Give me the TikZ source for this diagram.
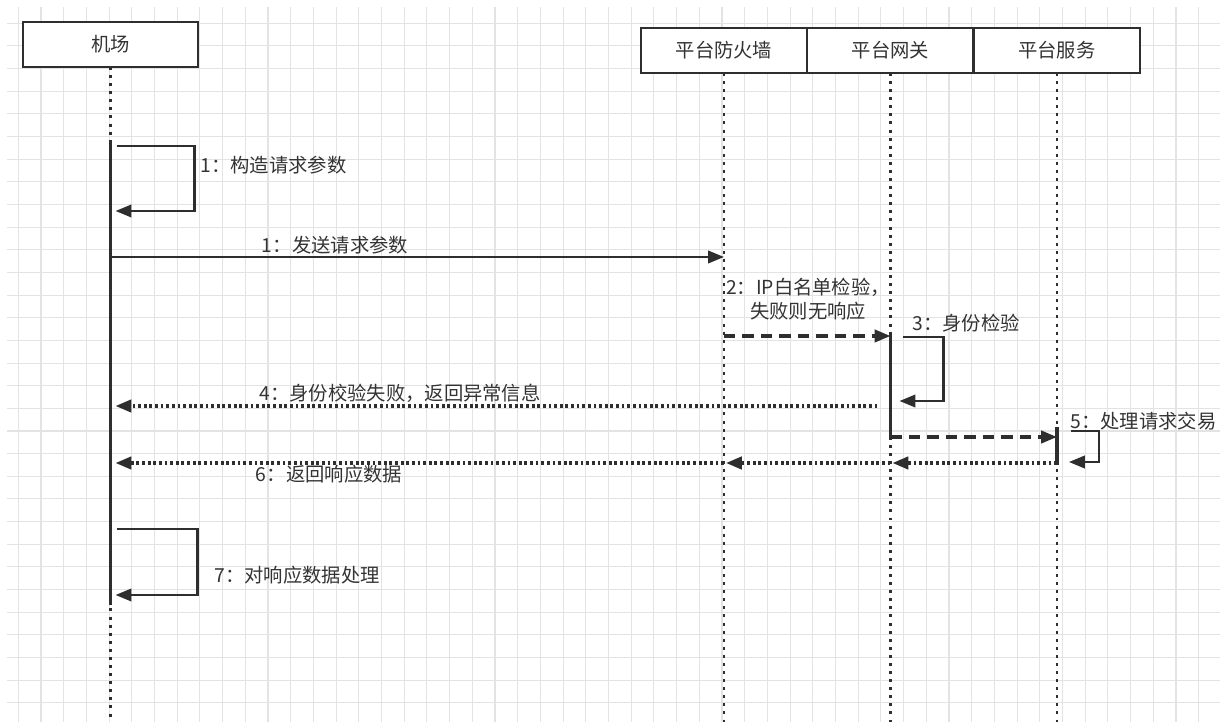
\documentclass[tikz,border=0pt]{standalone}
\usepackage{fontspec}
\setmainfont{Noto Sans CJK SC}
\usetikzlibrary{arrows.meta,calc,positioning}
\definecolor{ink}{HTML}{2E2E2E}
\definecolor{txt}{HTML}{333333}
\definecolor{gridc}{HTML}{E3E3E3}

\begin{document}
\begin{tikzpicture}[x=0.02cm,y=-0.02cm,
	font=\fontsize{11pt}{13.6pt}\selectfont,text=txt,
	actor/.style={draw=ink,line width=1.4pt,fill=white,minimum height=0.9cm,outer sep=0pt,inner sep=0pt},
	life/.style={draw=ink,line width=1.6pt,dash pattern=on 1.7pt off 2.9pt},
	bar/.style={draw=ink,line width=2pt},
	msg/.style={draw=ink,line width=1.4pt,-{Triangle[length=9pt,width=7pt]}},
	dmsg/.style={msg,line width=1.8pt,dash pattern=on 6.5pt off 4pt},
	rmsg/.style={msg,line width=1.9pt,dash pattern=on 1.6pt off 1.6pt},
	lbl/.style={inner sep=0pt}]
	\useasboundingbox (0,0) rectangle (1220,722);
	\foreach \i in {0,...,52}
		\draw[gridc,line width=0.6pt] ({18.3+22.7*\i},7) -- ({18.3+22.7*\i},722);
	\foreach \j in {0,...,30}
		\draw[gridc,line width=0.6pt] (7,{23.3+22.65*\j}) -- (1220,{23.3+22.65*\j});

	\node[actor,minimum width=3.5cm] (a) at (110.5,44.5) {机场};
	\node[actor,minimum width=3.33cm] (f) at (724,50.5) {平台防火墙};
	\node[actor,minimum width=3.33cm,right=0pt of f] (g) {平台网关};
	\node[actor,minimum width=3.33cm,right=0pt of g] (s) {平台服务};
	\foreach \n in {a,f,g,s}
		\draw[life] (\n) -- (\n |- 0,722);

	\draw[bar] (a |- 0,143) -- (a |- 0,605);
	\draw[bar] (g |- 0,335) -- (g |- 0,437);
	\draw[bar] (s |- 0,427) -- (s |- 0,465);

	\coordinate (a1) at (a |- 0,146);
	\draw[msg] ($(a1)+(6,0)$) -- ++(78,0) -- ++(0,65) -- ($(a1)+(5,65)$);
	\node[lbl,anchor=west] (l1) at (200,165) {1：构造请求参数};

	\draw[msg] (a |- 0,257) -- (f |- 0,257);
	\node (l2) at (335,245) {1：发送请求参数};

	\draw[dmsg] (f |- 0,336) -- (g |- 0,336);
	\node[align=center] (l3) at (808,299) {2：IP白名单检验，\\失败则无响应};

	\coordinate (g1) at (g |- 0,337);
	\draw[msg] ($(g1)+(13,0)$) -- ++(40,0) -- ++(0,64) -- ($(g1)+(9,64)$);
	\node (l4) at (966,323) {3：身份检验};

	\draw[rmsg] ($(g |- 0,406)+(-13,0)$) -- ($(a |- 0,406)+(5,0)$);
	\node (l5) at (400,393) {4：身份校验失败，返回异常信息};

	\draw[dmsg] (g |- 0,437) -- (s |- 0,437);

	\coordinate (s1) at (s |- 0,431);
	\draw[msg] ($(s1)+(14,0)$) -- ++(28,0) -- ++(0,31) -- ($(s1)+(12,31)$);
	\node[lbl,anchor=west] (l6) at (1070,421) {5：处理请求交易};

	\draw[rmsg] (s |- 0,463) -- ($(g |- 0,463)+(2,0)$);
	\draw[rmsg] (g |- 0,463) -- ($(f |- 0,463)+(2,0)$);
	\draw[rmsg] (f |- 0,463) -- ($(a |- 0,463)+(5,0)$);
	\node (l7) at (329,474) {6：返回响应数据};

	\coordinate (a2) at (a |- 0,529);
	\draw[msg] ($(a2)+(6,0)$) -- ++(81,0) -- ++(0,66) -- ($(a2)+(5,66)$);
	\node[lbl,anchor=west] (l8) at (214,575) {7：对响应数据处理};
\end{tikzpicture}
\end{document}
